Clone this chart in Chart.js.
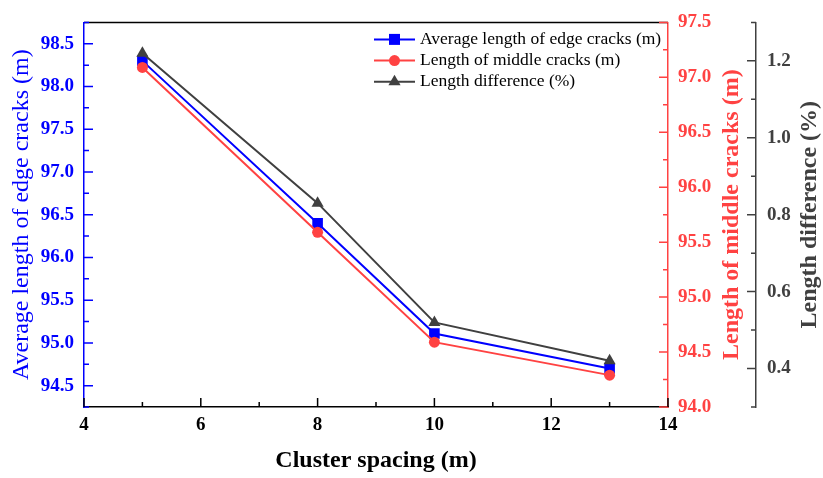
<!DOCTYPE html>
<html><head><meta charset="utf-8">
<style>html,body{margin:0;padding:0;background:#fff;}#wrap{width:823px;height:478px;}</style>
<script src="https://cdn.jsdelivr.net/npm/chart.js"></script>
</head><body>
<div id="wrap"><canvas id="c" width="823" height="478"></canvas></div>
<script>
// ---- data ----
const spacing = [5, 8, 10, 13];
const edgeAvg = [98.30, 96.40, 95.11, 94.70];
const middleLen = [97.09, 95.59, 94.59, 94.29];
const lengthDiff = [1.22, 0.83, 0.52, 0.42];
const seriesNames = ['Average length of edge cracks (m)', 'Length of middle cracks (m)', 'Length difference (%)'];
const xTicks = [4, 6, 8, 10, 12, 14];
const yLeftTicks = [94.5, 95.0, 95.5, 96.0, 96.5, 97.0, 97.5, 98.0, 98.5];
const yRedTicks = [94.0, 94.5, 95.0, 95.5, 96.0, 96.5, 97.0, 97.5];
const yDiffTicks = [0.4, 0.6, 0.8, 1.0, 1.2];
const xTitle = 'Cluster spacing (m)';
const leftTitle = 'Average length of edge cracks (m)';
const redTitle = 'Length of middle cracks (m)';
const diffTitle = 'Length difference (%)';

const BLUE = '#0000ff', RED = '#ff4242', DARK = '#404040';
const FONT = "'Liberation Serif', 'Times New Roman', serif";

function pts(ys) { return spacing.map((x, i) => ({x: x, y: ys[i]})); }
function setTicks(arr) { return s => { s.ticks = arr.map(v => ({value: v})); }; }

function minorVals(min, max, step, majors) {
  const out = [];
  const n = Math.round((max - min) / step);
  for (let i = 0; i <= n; i++) {
    const v = +(min + i * step).toFixed(6);
    if (!majors.some(m => Math.abs(m - v) < 1e-6)) out.push(v);
  }
  return out;
}

const decoPlugin = {
  id: 'deco',
  afterDraw(chart) {
    const ctx = chart.ctx;
    const ca = chart.chartArea;
    const sx = chart.scales.x, sl = chart.scales.yL, sr = chart.scales.yR, sd = chart.scales.yD;
    ctx.save();
    // top border
    ctx.strokeStyle = '#000'; ctx.lineWidth = 1.5;
    ctx.beginPath(); ctx.moveTo(ca.left, ca.top); ctx.lineTo(ca.right, ca.top); ctx.stroke();

    function vT(scale, vals, xe, dir, len, color) {
      ctx.strokeStyle = color; ctx.lineWidth = 1.5; ctx.beginPath();
      vals.forEach(v => { const y = scale.getPixelForValue(v); ctx.moveTo(xe, y); ctx.lineTo(xe + dir * len, y); });
      ctx.stroke();
    }
    function hT(scale, vals, ye, dir, len, color) {
      ctx.strokeStyle = color; ctx.lineWidth = 1.5; ctx.beginPath();
      vals.forEach(v => { const x = scale.getPixelForValue(v); ctx.moveTo(x, ye); ctx.lineTo(x, ye + dir * len); });
      ctx.stroke();
    }
    vT(sl, yLeftTicks, sl.right, 1, 9, BLUE);
    vT(sl, minorVals(sl.min, sl.max, 0.25, yLeftTicks), sl.right, 1, 5, BLUE);
    vT(sr, yRedTicks, sr.left, -1, 9, RED);
    vT(sr, minorVals(sr.min, sr.max, 0.25, yRedTicks), sr.left, -1, 5, RED);
    vT(sd, yDiffTicks, sd.left, -1, 9, DARK);
    vT(sd, minorVals(sd.min, sd.max, 0.1, yDiffTicks), sd.left, -1, 5, DARK);
    hT(sx, xTicks, sx.top, -1, 9, '#000');
    hT(sx, minorVals(sx.min, sx.max, 1, xTicks), sx.top, -1, 5, '#000');

    // right axis titles (reading bottom to top)
    const cy = (ca.top + ca.bottom) / 2;
    ctx.font = 'bold 24px ' + FONT;
    ctx.textAlign = 'center'; ctx.textBaseline = 'middle';
    [[redTitle, sr.left + 64, RED], [diffTitle, sd.left + 54, DARK]].forEach(([t, x, c]) => {
      ctx.save(); ctx.translate(x, cy); ctx.rotate(-Math.PI / 2); ctx.fillStyle = c; ctx.fillText(t, 0, 0); ctx.restore();
    });

    // legend
    const styles = [['rect', BLUE], ['circle', RED], ['triangle', DARK]];
    ctx.font = '17.5px ' + FONT;
    ctx.textAlign = 'left'; ctx.textBaseline = 'middle';
    styles.forEach(([st, c], i) => {
      const y = ca.top + 17 + i * 21.2;
      const x0 = ca.right - 294, x1 = ca.right - 253, xm = (x0 + x1) / 2;
      ctx.strokeStyle = c; ctx.lineWidth = 2;
      ctx.beginPath(); ctx.moveTo(x0, y); ctx.lineTo(x1, y); ctx.stroke();
      ctx.fillStyle = c; ctx.beginPath();
      if (st === 'rect') { ctx.rect(xm - 5.5, y - 5.5, 11, 11); }
      else if (st === 'circle') { ctx.arc(xm, y, 5.5, 0, Math.PI * 2); }
      else { ctx.moveTo(xm, y - 7); ctx.lineTo(xm + 6.1, y + 3.5); ctx.lineTo(xm - 6.1, y + 3.5); ctx.closePath(); }
      ctx.fill();
      ctx.fillStyle = '#000';
      ctx.fillText(seriesNames[i], ca.right - 248, y);
    });
    ctx.restore();
  }
};

const tickFont = {family: FONT, size: 19, weight: 'bold'};

new Chart(document.getElementById('c'), {
  type: 'line',
  data: {
    datasets: [
      {label: seriesNames[0], data: pts(edgeAvg), yAxisID: 'yL', borderColor: BLUE, backgroundColor: BLUE,
       borderWidth: 2, pointStyle: 'rect', pointRadius: 7.5, pointBorderWidth: 0, order: 3},
      {label: seriesNames[1], data: pts(middleLen), yAxisID: 'yR', borderColor: RED, backgroundColor: RED,
       borderWidth: 2, pointStyle: 'circle', pointRadius: 5.5, pointBorderWidth: 0, order: 2},
      {label: seriesNames[2], data: pts(lengthDiff), yAxisID: 'yD', borderColor: DARK, backgroundColor: DARK,
       borderWidth: 2, pointStyle: 'triangle', pointRadius: 7, pointBorderWidth: 0, order: 1}
    ]
  },
  options: {
    responsive: false, animation: false, events: [], devicePixelRatio: 1,
    layout: {padding: {top: 16, left: 0, right: 0, bottom: 0}},
    plugins: {legend: {display: false}, tooltip: {enabled: false}},
    scales: {
      x: {type: 'linear', position: 'bottom', min: 4, max: 14,
          afterBuildTicks: setTicks(xTicks), afterFit: s => { s.height = 71; },
          grid: {display: true, drawOnChartArea: false, drawTicks: false},
          border: {color: '#000', width: 1.5},
          ticks: {font: tickFont, color: '#000', padding: 7, maxRotation: 0, autoSkip: false, callback: v => String(v)},
          title: {display: true, text: xTitle, color: '#000', font: {family: FONT, size: 24, weight: 'bold'}, padding: {top: 0, bottom: 3}}},
      yL: {type: 'linear', position: 'left', min: 94.25, max: 98.75,
          afterBuildTicks: setTicks(yLeftTicks), afterFit: s => { s.width = 84; },
          grid: {display: true, drawOnChartArea: false, drawTicks: false},
          border: {color: BLUE, width: 1.5},
          ticks: {font: tickFont, color: BLUE, padding: 10, autoSkip: false, callback: v => v.toFixed(1)},
          title: {display: true, text: leftTitle, color: BLUE, font: {family: FONT, size: 24, weight: 'normal'}, padding: {top: 7, bottom: 0}}},
      yR: {type: 'linear', position: 'right', weight: 0, min: 94.0, max: 97.5,
          afterBuildTicks: setTicks(yRedTicks), afterFit: s => { s.width = 88; },
          grid: {display: true, drawOnChartArea: false, drawTicks: false},
          border: {color: RED, width: 1.5},
          ticks: {font: tickFont, color: RED, padding: 10, autoSkip: false, callback: v => v.toFixed(1)}},
      yD: {type: 'linear', position: 'right', weight: 1, min: 0.3, max: 1.3,
          afterBuildTicks: setTicks(yDiffTicks), afterFit: s => { s.width = 67; },
          grid: {display: true, drawOnChartArea: false, drawTicks: false},
          border: {color: DARK, width: 1.5},
          ticks: {font: tickFont, color: DARK, padding: 11, autoSkip: false, callback: v => v.toFixed(1)}}
    }
  },
  plugins: [decoPlugin]
});
</script>
</body></html>
